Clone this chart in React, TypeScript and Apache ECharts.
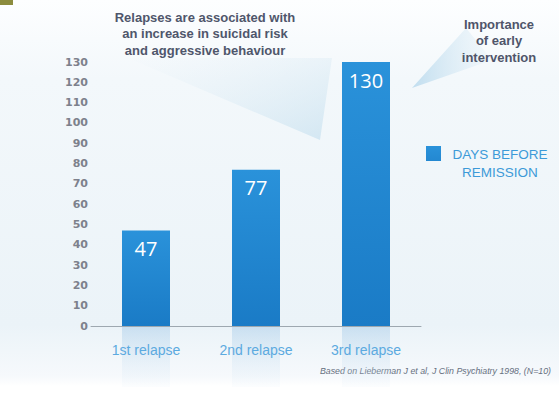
import React, { useEffect, useRef } from "react";
import * as echarts from "echarts";

const categories = ["1st relapse", "2nd relapse", "3rd relapse"];
const daysBeforeRemission = [47, 77, 130];
const reflectionDepth = [30, 30, 30];
const seriesName = "DAYS BEFORE REMISSION";
const noteLeft = "Relapses are associated with\nan increase in suicidal risk\nand aggressive behaviour";
const noteRight = "Importance\nof early\nintervention";
const sourceNote = "Based on Lieberman J et al, J Clin Psychiatry 1998, (N=10)";

export default function App() {
  const ref = useRef<HTMLDivElement>(null);
  useEffect(() => {
    if (!ref.current) return;
    const chart = echarts.init(ref.current, null, { renderer: "svg" });
    const font = "Liberation Sans, Arial, sans-serif";
    const wide = "DejaVu Sans, Verdana, sans-serif";
    chart.setOption({
      animation: false,
      backgroundColor: new echarts.graphic.LinearGradient(0, 0, 0, 1, [
        { offset: 0, color: "#fdfeff" },
        { offset: 0.2, color: "#f3f8fb" },
        { offset: 0.82, color: "#ebf3f8" },
        { offset: 0.95, color: "#f6f9fc" },
        { offset: 0.975, color: "#ffffff" },
        { offset: 1, color: "#ffffff" },
      ]),
      grid: [
        { left: 91, right: 138, top: 62, bottom: 70, containLabel: false },
        { left: 91, right: 138, top: 327, bottom: 9, containLabel: false },
      ],
      legend: {
        data: [seriesName],
        left: 421,
        top: 141,
        itemWidth: 15,
        itemHeight: 34,
        icon: "path://M0,0h15v15h-15z M0,33.95h0.05v0.05h-0.05z",
        formatter: () => "{a|DAYS BEFORE}\n{a|REMISSION}",
        textStyle: {
          color: "#3c9ad8",
          fontFamily: font,
          fontSize: 13.5,
          rich: {
            a: { width: 108, align: "center", color: "#3c9ad8", fontSize: 13.5, fontFamily: font, lineHeight: 18 },
          },
        },
      },
      xAxis: [
        {
          type: "category",
          gridIndex: 0,
          data: categories,
          axisLine: { lineStyle: { color: "#9ea8b0", width: 1 } },
          axisTick: { show: false },
          axisLabel: { color: "#5caae0", fontSize: 14, fontFamily: font, margin: 17 },
          z: 5,
        },
        {
          type: "category",
          gridIndex: 1,
          data: categories,
          show: false,
        },
      ],
      yAxis: [
        {
          type: "value",
          gridIndex: 0,
          min: 0,
          max: 130,
          interval: 10,
          splitLine: { show: false },
          axisLine: { show: false },
          axisTick: { show: false },
          axisLabel: {
            color: "#7d818c",
            fontSize: 11,
            fontWeight: "bold",
            fontFamily: wide,
            margin: 3,
          },
        },
        {
          type: "value",
          gridIndex: 1,
          min: 0,
          max: 30,
          inverse: true,
          show: false,
        },
      ],
      series: [
        {
          name: seriesName,
          type: "bar",
          xAxisIndex: 0,
          yAxisIndex: 0,
          data: daysBeforeRemission,
          barWidth: 48,
          z: 3,
          itemStyle: {
            color: new echarts.graphic.LinearGradient(0, 0, 0, 1, [
              { offset: 0, color: "#2a92da" },
              { offset: 1, color: "#1a7bc6" },
            ]),
          },
          label: {
            show: true,
            position: "insideTop",
            distance: 8,
            color: "#ffffff",
            fontSize: 20,
            fontFamily: "Open Sans, sans-serif",
          },
        },
        {
          name: "reflection",
          type: "bar",
          xAxisIndex: 1,
          yAxisIndex: 1,
          data: reflectionDepth,
          barWidth: 48,
          z: 1,
          silent: true,
          itemStyle: {
            color: new echarts.graphic.LinearGradient(0, 0, 0, 1, [
              { offset: 0, color: "rgba(160,200,232,0.45)" },
              { offset: 1, color: "rgba(220,235,246,0.1)" },
            ]),
          },
          label: { show: false },
        },
      ],
      graphic: [
        { type: "rect", left: 0, top: 0, shape: { width: 13, height: 5 }, style: { fill: "#8c8c3e" } },
        {
          type: "polygon",
          z: 0,
          shape: { points: [[128, 58], [332, 58], [320, 140]] },
          style: {
            fill: new echarts.graphic.LinearGradient(0, 0, 1, 1, [
              { offset: 0, color: "rgba(230,240,247,0.05)" },
              { offset: 1, color: "rgba(190,220,237,0.6)" },
            ]),
          },
        },
        {
          type: "polygon",
          z: 0,
          shape: { points: [[466, 28], [492, 60], [412, 88]] },
          style: {
            fill: new echarts.graphic.LinearGradient(0, 0, 1, 0, [
              { offset: 0, color: "rgba(180,215,236,0.8)" },
              { offset: 1, color: "rgba(220,236,246,0.2)" },
            ]),
          },
        },
        {
          type: "text",
          x: 205,
          y: 9,
          style: { text: noteLeft, textAlign: "center", fill: "#4f566b", font: "bold 13px " + font, lineHeight: 16.5 },
        },
        {
          type: "text",
          x: 499,
          y: 16,
          style: { text: noteRight, textAlign: "center", fill: "#4f556a", font: "bold 13px " + font, lineHeight: 16.5 },
        },
        {
          type: "text",
          x: 551,
          y: 366,
          style: { text: sourceNote, textAlign: "right", fill: "#66707f", font: "italic 8.8px " + font },
        },
      ],
    });
    return () => chart.dispose();
  }, []);
  return <div ref={ref} style={{ position: "absolute", left: 0, top: 0, width: 559, height: 396 }} />;
}
